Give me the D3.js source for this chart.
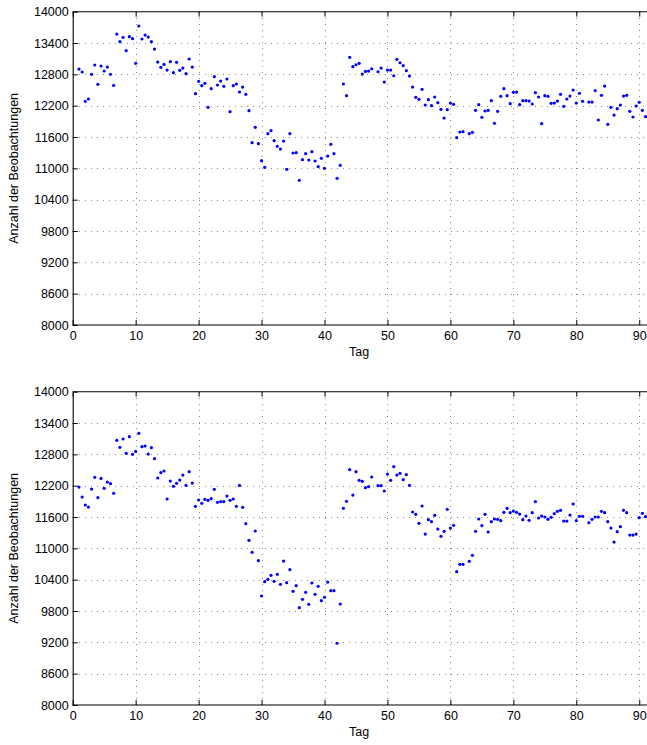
<!DOCTYPE html>
<html>
<head>
<meta charset="utf-8">
<script src="https://cdn.jsdelivr.net/npm/d3@7"></script>
<style>
html,body{margin:0;padding:0;background:#fff;}
svg{display:block;font-family:"Liberation Sans",Arial,Helvetica,sans-serif;}
</style>
</head>
<body>
<svg id="chart" width="647" height="745"></svg>
<script>
// ---- data ----
const gapDays = [48, 62.5, 81.5];
const days = d3.range(1, 91.01, 0.5).filter(d => !gapDays.includes(d));

const countsTop = [
12902,12845,12283,12328,12800,12979,12609,12960,12864,12940,12800,12589,
13572,13426,13509,13253,13521,13483,13011,13726,13477,13553,13515,13426,
13285,13036,12934,12991,12883,13043,12832,13030,12877,12921,12813,13094,
12940,12430,12666,12583,12628,12168,12526,12755,12596,12672,12570,12711,
12085,12583,12615,12462,12557,12417,12104,11491,11785,11472,
11147,11019,11664,11721,11530,11421,11370,11523,10981,11664,11294,11300,
10770,11166,11281,11160,11319,11141,11032,11192,11000,11236,11460,11281,
10809,11058,12615,12392,13126,12947,12984,13011,12806,12857,12863,12907,
12850,12921,12652,12882,12882,12773,13088,13022,12966,12870,12768,12557,
12360,12321,12513,12213,12315,12200,12366,12257,12130,11964,12123,12251,
12226,11587,11696,11702,11664,11689,12111,12219,11977,12098,12111,12296,
11862,12092,12379,12526,12392,12238,12455,12461,12219,12296,12296,12289,
12232,12449,12366,11855,12392,12379,12245,12251,12289,12417,12187,12328,
12384,12500,12251,12436,12283,12270,12270,12490,11926,12398,12575,11843,
12168,12021,12143,12213,12384,12398,12092,11983,12194,12264,12111,11989
];

const countsBottom = [
12174,11983,11830,11791,12136,12360,11970,12340,12149,12270,12238,12053,
13068,12934,13094,12819,13138,12800,12857,13202,12947,12960,12806,12928,
12717,12347,12449,12481,11945,12289,12187,12245,12308,12404,12206,12468,
12251,11804,11926,11862,11938,11919,11951,12130,11881,11894,11894,12002,
11919,11945,11804,12206,11785,11472,11153,10923,11332,10764,
10087,10362,10406,10483,10368,10502,10311,10757,10343,10592,10177,10285,
9864,10023,10157,9928,10336,10119,10272,9998,10062,10355,10189,10189,
9183,9934,11766,11900,12506,12021,12468,12302,12283,12162,12181,12366,
12200,12200,12098,12423,12302,12564,12404,12436,12315,12411,12206,11696,
11651,11479,11811,11274,11549,11511,11632,11370,11230,11326,11747,11389,
11440,10553,10694,10694,10751,10866,11326,11562,11434,11651,11313,11511,
11562,11555,11530,11689,11766,11683,11715,11689,11657,11549,11619,11536,
11683,11894,11581,11619,11600,11555,11594,11664,11709,11728,11523,11523,
11638,11849,11530,11613,11613,11492,11555,11600,11600,11709,11683,11511,
11389,11121,11319,11415,11728,11683,11255,11255,11274,11587,11670,11606
];

const xTicks = [0,10,20,30,40,50,60,70,80,90];
const yTicks = [8000,8600,9200,9800,10400,11000,11600,12200,12800,13400,14000];
const xLabel = "Tag";
const yLabel = "Anzahl der Beobachtungen";

// ---- drawing ----
const svg = d3.select("#chart");
svg.append("rect").attr("width",647).attr("height",745).attr("fill","#fff");

const L = 72.7, R = 702.2;
const x = d3.scaleLinear().domain([0,100]).range([L, R]);

function panel(top, values) {
  const bottom = top + 313.3;
  const y = d3.scaleLinear().domain([8000,14000]).range([bottom, top]);
  const g = svg.append("g");

  // grid
  const grid = g.append("g").attr("stroke","#8a8a8a").attr("stroke-width",1)
    .attr("stroke-dasharray","1.2,4.8").attr("shape-rendering","crispEdges");
  grid.selectAll("line.v").data(xTicks.slice(1)).join("line")
    .attr("x1", d => Math.round(x(d))+0.5).attr("x2", d => Math.round(x(d))+0.5)
    .attr("y1", bottom).attr("y2", top);
  grid.selectAll("line.h").data(yTicks.slice(1,-1)).join("line")
    .attr("y1", d => Math.round(y(d))+0.5).attr("y2", d => Math.round(y(d))+0.5)
    .attr("x1", L).attr("x2", 647);

  // axes
  const ax = d3.axisBottom(x).tickValues(xTicks).tickSizeInner(-5).tickSizeOuter(0).tickPadding(6.5);
  const axT = d3.axisTop(x).tickValues(xTicks).tickSizeInner(-5).tickSizeOuter(0).tickFormat("");
  const ay = d3.axisLeft(y).tickValues(yTicks).tickSizeInner(-5).tickSizeOuter(0).tickPadding(4).tickFormat(d3.format("d"));

  const gx = g.append("g").attr("transform",`translate(0,${bottom})`).call(ax);
  const gxt = g.append("g").attr("transform",`translate(0,${top})`).call(axT);
  const gy = g.append("g").attr("transform",`translate(${L},0)`).call(ay);
  [gx,gxt].forEach(a => a.select(".domain").attr("d", `M${L},0H647`));
  [gx,gxt,gy].forEach(a => {
    a.select(".domain").attr("stroke","#000").attr("stroke-width",1.1);
    a.selectAll(".tick line").attr("stroke","#000").attr("stroke-width",1);
    a.selectAll("text").attr("fill","#000").style("font-size","12.5px")
      .style("font-family",'"Liberation Sans",Arial,Helvetica,sans-serif');
  });

  // labels
  g.append("text").attr("x", (L + x(91)) / 2).attr("y", bottom + 31)
    .attr("text-anchor","middle").style("font-size","12.5px").text(xLabel);
  g.append("text").attr("transform",`translate(18,${(top+bottom)/2}) rotate(-90)`)
    .attr("text-anchor","middle").style("font-size","12.5px").text(yLabel);

  // points
  g.append("g").selectAll("circle").data(days.map((d,i)=>[d, values[i]])).join("circle")
    .attr("cx", d => x(d[0])).attr("cy", d => y(d[1])).attr("r", 1.6).attr("fill","#0000ff");
}

panel(11.7, countsTop);
panel(391.7, countsBottom);
</script>
</body>
</html>
